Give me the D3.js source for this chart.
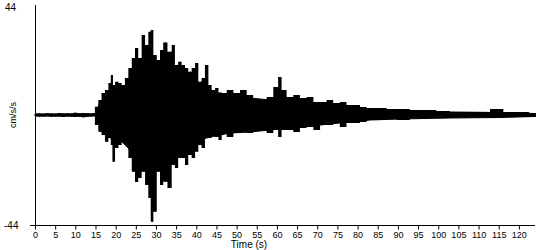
<!DOCTYPE html>
<html>
<head>
<meta charset="utf-8">
<script src="https://cdn.jsdelivr.net/npm/d3@7"></script>
<style>
  body{margin:0;background:#fff;}
  svg{display:block;font-family:"Liberation Sans",Arial,sans-serif;}
</style>
</head>
<body>
<svg width="550" height="250"></svg>
<script>
// accelerogram, peak envelope (time s, cm/s/s)
var peakTime = [0,1,2,3,4,5,6,7,8,9,10,11,12,13,14,14.4,15.3,16.1,16.9,17.8,18.6,19.0,19.4,20.3,21.1,21.9,22.7,23.6,24.4,25.2,26.0,26.9,27.7,28.5,28.9,29.8,30.6,31.4,32.2,33.5,34.3,35.1,35.9,36.8,37.6,38.4,39.3,40.1,40.9,41.7,42.6,43.4,44.2,45.1,45.9,46.7,48.4,50.0,51.7,53.3,54.9,56.6,58.3,59.9,60.7,61.6,63.2,64.9,66.5,68.2,69.9,71.5,73.1,74.8,76.4,78.1,79.8,81.4,83.1,84.7,86.4,88.0,91.3,94.6,97.9,101.2,104.6,107.9,111.2,114.5,117.8,121.1,124.0];
var peakHigh = [0.5,0.6,0.5,0.7,0.6,0.5,0.8,0.6,0.7,0.6,0.9,0.7,0.8,0.7,0.6,0.8,3.3,6.0,8.8,10.0,12.8,16.0,12.0,13.3,12.8,12.0,14.8,18.8,22.8,26.8,22.8,32.0,28.0,33.3,34.0,24.0,22.0,26.0,29.0,25.3,28.0,20.0,21.3,20.0,18.8,17.3,18.8,20.8,13.3,14.8,20.0,12.0,10.0,10.8,9.0,8.8,10.0,8.8,10.0,8.0,6.0,4.8,7.2,11.2,15.2,10.0,7.2,8.0,6.8,7.2,5.2,5.2,6.0,4.8,5.2,4.0,4.0,3.2,2.8,2.8,2.8,2.4,2.4,2.0,2.0,1.6,1.2,1.2,1.2,2.4,1.2,1.2,0.8];
var peakLow = [-0.5,-0.6,-0.6,-0.5,-0.7,-0.6,-0.6,-0.8,-0.6,-0.7,-0.8,-0.7,-0.9,-0.7,-0.6,-0.4,-4.0,-6.7,-8.0,-10.7,-9.2,-12.0,-18.7,-13.2,-12.0,-10.7,-12.0,-17.2,-22.7,-26.8,-25.2,-22.7,-28.0,-33.2,-42.7,-38.7,-22.7,-28.0,-26.7,-29.2,-20.0,-21.2,-17.2,-17.2,-20.0,-16.0,-17.2,-14.7,-12.0,-13.2,-9.2,-9.2,-7.2,-8.8,-10.0,-7.2,-8.8,-7.2,-6.8,-7.2,-6.0,-5.2,-7.2,-6.0,-8.8,-6.0,-6.0,-6.8,-5.2,-4.8,-6.0,-4.0,-4.0,-3.2,-4.8,-3.2,-3.2,-2.8,-2.0,-2.0,-2.0,-1.6,-2.0,-1.2,-1.2,-0.8,-0.8,-0.4,-0.4,-1.2,-0.8,-0.8,-0.8];

// dense core of the trace
var coreTime = [0,14.9,16.1,18.6,21.1,23.6,26.0,28.5,31.0,33.5,35.9,38.4,40.9,43.4,48.4,53.3,58.3,63.2,68.2,73.1,78.1,83.1,90.5,102.9,115.3,124.0];
var coreHigh = [0.4,0.4,4.8,9.6,10.0,14.0,18.0,18.0,17.2,16.0,14.0,12.0,10.8,9.2,7.2,6.8,6.0,5.2,4.4,3.6,2.8,2.0,1.6,1.2,1.0,0.6];
var coreLow = [-0.4,-0.4,-4.8,-9.2,-10.0,-14.0,-18.0,-20.0,-18.0,-16.0,-14.0,-12.0,-10.0,-8.8,-7.2,-6.8,-6.0,-5.2,-4.4,-3.6,-2.8,-2.0,-1.6,-1.2,-1.0,-0.6];

var xTicks = d3.range(0, 121, 5);
var yMax = 44;

var svg = d3.select("svg");
var x = d3.scaleLinear().domain([0, 124]).range([35, 535]);
var y = d3.scaleLinear().domain([-yMax, yMax]).range([225, 5]);

var core = coreTime.map(function(t, i){ return {t:t, hi:coreHigh[i], lo:coreLow[i]}; });
var peaks = peakTime.map(function(t, i){ return {t:t, hi:peakHigh[i], lo:peakLow[i]}; });

var band = function(curve){
    return d3.area().curve(curve)
        .x(function(d){ return x(d.t); })
        .y0(function(d){ return y(d.lo); })
        .y1(function(d){ return y(d.hi); });
};

svg.append("path")
    .datum(core)
    .attr("fill", "#000")
    .attr("stroke", "#000")
    .attr("d", band(d3.curveLinear));

svg.append("path")
    .datum(peaks)
    .attr("fill", "#000")
    .attr("d", band(d3.curveStep));

// spikes
svg.selectAll("line.needle")
    .data(peaks)
    .enter().append("line")
    .attr("class", "needle")
    .attr("x1", function(d){ return Math.round(x(d.t)) + 0.5; })
    .attr("x2", function(d){ return Math.round(x(d.t)) + 0.5; })
    .attr("y1", function(d){ return y(d.hi); })
    .attr("y2", function(d){ return y(d.lo); })
    .attr("stroke", "#000")
    .attr("stroke-width", 1);

// axes
var xAxis = svg.append("g")
    .attr("transform", "translate(0," + (y(-yMax) + 0.5) + ")")
    .call(d3.axisBottom(x).tickValues(xTicks).tickSize(4).tickSizeOuter(0));
xAxis.select(".domain").remove();
xAxis.append("line")
    .attr("x1", x(0) - 5).attr("x2", x(124))
    .attr("stroke", "#000");
xAxis.selectAll(".tick text")
    .attr("y", 6)
    .attr("fill", "#000")
    .style("font-size", "9px");

svg.append("line")
    .attr("x1", x(0) + 0.5).attr("x2", x(0) + 0.5)
    .attr("y1", y(yMax)).attr("y2", y(-yMax))
    .attr("stroke", "#000");

svg.append("text").attr("x", 5).attr("y", 11).style("font-size", "10px").text(yMax);
svg.append("text").attr("x", 4).attr("y", 229).style("font-size", "10px").text(-yMax);

svg.append("text")
    .attr("transform", "translate(16," + y(0) + ") rotate(-90)")
    .attr("text-anchor", "middle")
    .style("font-size", "9px")
    .text("cm/s/s");

svg.append("text")
    .attr("x", 249).attr("y", 248)
    .attr("text-anchor", "middle")
    .style("font-size", "10px")
    .text("Time (s)");
</script>
</body>
</html>
